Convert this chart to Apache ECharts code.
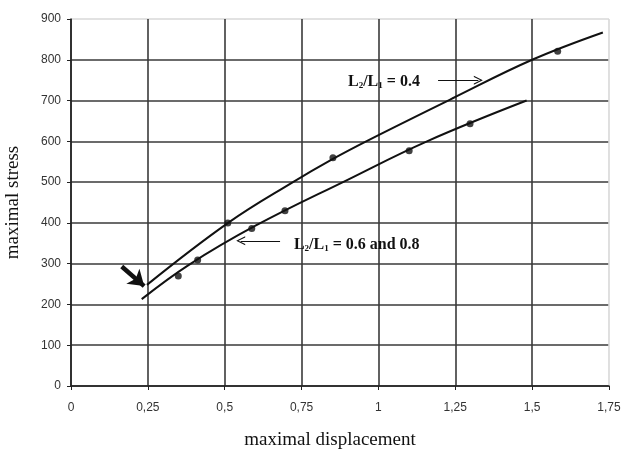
<!DOCTYPE html>
<html style="height:100%;width:100%;">
<head>
  <meta charset="utf-8">
  <title>maximal stress vs displacement</title>
  <script src="https://cdn.jsdelivr.net/npm/echarts@6/dist/echarts.min.js"></script>
</head>
<body style="margin:0px;height:100%;width:100%;background:#fff;">
  <div id="main" style="width:622px;height:449px"></div>
  <script type="text/javascript">
    // x / y tick settings
    var xTicks = [0, 0.25, 0.5, 0.75, 1, 1.25, 1.5, 1.75];
    var yTicks = [0, 100, 200, 300, 400, 500, 600, 700, 800, 900];

    // fitted curve L2/L1 = 0.4
    var curve04 = [[0.247, 248], [0.511, 400], [0.722, 500], [0.852, 557], [0.965, 602], [1.24, 705], [1.50, 800], [1.73, 867]];
    // measured points L2/L1 = 0.4
    var points04 = [[0.51, 400], [0.852, 560], [1.583, 821]];

    // fitted curve L2/L1 = 0.6 and 0.8
    var curve068 = [[0.23, 213], [0.381, 296], [0.6, 393], [0.898, 505], [1.158, 600], [1.482, 700]];
    // measured points L2/L1 = 0.6 and 0.8
    var points068 = [[0.349, 270], [0.412, 309], [0.588, 386], [0.696, 430], [1.10, 577], [1.298, 643]];

    var myChart = echarts.init(document.getElementById("main"));

    var gridColors = [];
    yTicks.forEach(function (v, i) { gridColors.push(i === yTicks.length - 1 ? '#d8d8d8' : '#3a3a3a'); });
    var xGridColors = [];
    xTicks.forEach(function (v, i) { xGridColors.push(i === xTicks.length - 1 ? '#d8d8d8' : '#3a3a3a'); });

    // thin open arrow head
    var openHead = 'path://M0,10 L5,0 L10,10 L8.6,10 L5,2.6 L1.4,10 Z';

    var option = {
      animation: false,
      grid: { left: 71, right: 13, top: 19, bottom: 63, containLabel: false, outerBoundsMode: 'none' },
      xAxis: {
        type: 'value',
        min: xTicks[0],
        max: xTicks[xTicks.length - 1],
        interval: 0.25,
        name: 'maximal displacement',
        nameLocation: 'middle',
        nameGap: 45,
        nameTextStyle: { fontFamily: 'Liberation Serif', fontSize: 19, color: '#111', padding: [0, 20, 0, 0] },
        axisLine: { lineStyle: { color: '#222', width: 1.5 } },
        axisTick: { length: 4, lineStyle: { color: '#222' } },
        axisLabel: {
          fontFamily: 'Liberation Sans', fontSize: 12, color: '#333', margin: 16,
          formatter: function (v) { return String(v).replace('.', ','); }
        },
        splitLine: { show: true, lineStyle: { color: xGridColors, width: 1.6 } }
      },
      yAxis: {
        type: 'value',
        min: yTicks[0],
        max: yTicks[yTicks.length - 1],
        interval: 100,
        name: 'maximal stress',
        nameLocation: 'middle',
        nameGap: 48,
        nameRotate: 90,
        nameTextStyle: { fontFamily: 'Liberation Serif', fontSize: 19, color: '#111' },
        axisLine: { show: true, lineStyle: { color: '#222', width: 1.5 } },
        axisTick: { show: true, length: 4, lineStyle: { color: '#222' } },
        axisLabel: { fontFamily: 'Liberation Sans', fontSize: 12, color: '#333', margin: 10 },
        splitLine: { show: true, lineStyle: { color: gridColors, width: 1.6 } }
      },
      series: [
        {
          name: 'L2/L1 = 0.4 fit',
          type: 'line',
          data: curve04,
          smooth: 0.4,
          showSymbol: false,
          lineStyle: { color: '#111', width: 2 },
          markLine: {
            silent: true,
            symbol: ['none', openHead],
            symbolSize: [9, 9],
            label: { show: false },
            data: [
              [{ coord: [1.194, 750], lineStyle: { color: '#111', width: 1.2, type: 'solid' } }, { coord: [1.325, 750] }],
              [{ coord: [0.68, 356], lineStyle: { color: '#111', width: 1.2, type: 'solid' } }, { coord: [0.552, 356] }],
              [{ coord: [0.165, 293], symbol: 'none', lineStyle: { color: '#111', width: 4.5, type: 'solid' } },
               { coord: [0.238, 245], symbol: 'arrow', symbolSize: [15, 15] }]
            ]
          }
        },
        {
          name: 'L2/L1 = 0.4',
          type: 'scatter',
          data: points04,
          symbolSize: 7,
          itemStyle: { color: '#111' }
        },
        {
          name: 'L2/L1 = 0.6 and 0.8 fit',
          type: 'line',
          data: curve068,
          smooth: 0.4,
          showSymbol: false,
          lineStyle: { color: '#111', width: 2 }
        },
        {
          name: 'L2/L1 = 0.6 and 0.8',
          type: 'scatter',
          data: points068,
          symbolSize: 7,
          itemStyle: { color: '#111' }
        }
      ]
    };

    myChart.setOption(option);

    // annotation labels, anchored in data coordinates
    var labels = [
      { at: [0.901, 745], text: 'L{s|2}/L{s|1} = 0.4' },
      { at: [0.725, 346], text: 'L{s|2}/L{s|1} = 0.6 and 0.8' }
    ];
    var richStyle = {
      s: { fontSize: 9, fontWeight: 'bold', fontFamily: 'Liberation Serif', verticalAlign: 'bottom', padding: [7, 0, 0, 0], fill: '#111' }
    };
    myChart.setOption({
      graphic: labels.map(function (l) {
        var p = myChart.convertToPixel({ gridIndex: 0 }, l.at);
        return {
          type: 'text',
          x: p[0],
          y: p[1],
          style: {
            text: l.text,
            fill: '#111',
            font: 'bold 16px "Liberation Serif"',
            verticalAlign: 'middle',
            rich: richStyle
          }
        };
      })
    });
  </script>
</body>
</html>
